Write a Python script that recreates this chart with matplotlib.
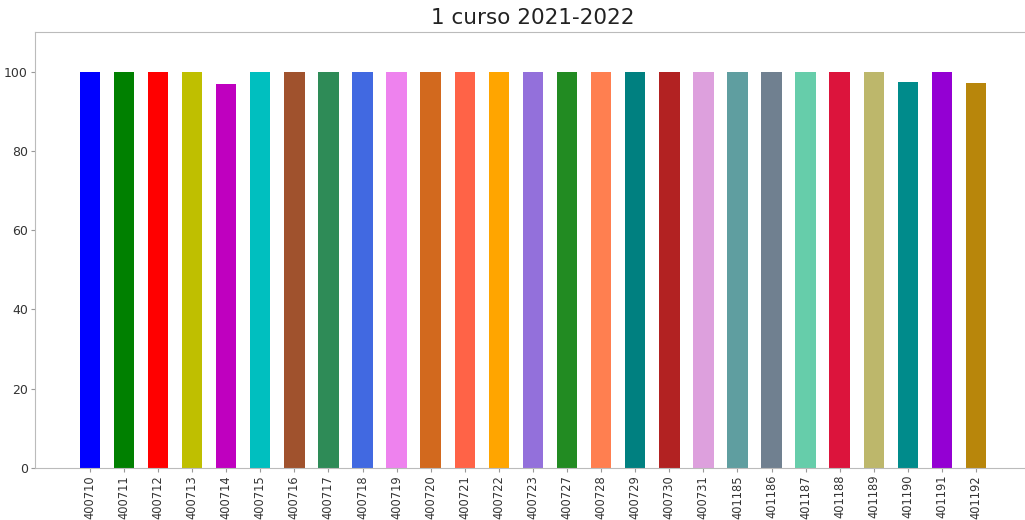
import numpy as np
from matplotlib import pyplot as plt

# grupos del 1 curso
grupos = ['400710', '400711', '400712', '400713', '400714', '400715', '400716',
          '400717', '400718', '400719', '400720', '400721', '400722', '400723',
          '400727', '400728', '400729', '400730', '400731', '401185', '401186',
          '401187', '401188', '401189', '401190', '401191', '401192']
porcentajes = [100, 100, 100, 100, 97.0, 100, 100,
               100, 100, 100, 100, 100, 100, 100,
               100, 100, 100, 100, 100, 100, 100,
               100, 100, 100, 97.4, 100, 97.1]
colores = ['b', 'g', 'r', 'y', 'm', 'c', 'sienna', 'seagreen', 'royalblue',
           'violet', 'chocolate', 'tomato', 'orange', 'mediumpurple',
           'forestgreen', 'coral', 'teal', 'firebrick', 'plum', 'cadetblue',
           'slategray', 'mediumaquamarine', 'crimson', 'darkkhaki', 'darkcyan',
           'darkviolet', 'darkgoldenrod']

fig = plt.figure(figsize=(10.25, 5.2), dpi=100)
ax = fig.add_axes([0.0341, 0.1, 0.9717, 0.8385])

x = np.arange(len(grupos))
ax.bar(x, porcentajes, width=0.6, color=colores)

ax.set_xticks(x)
ax.set_xticklabels(grupos, rotation=90, fontsize=8.3, color='#333333')
ax.set_xlim(-1.61, len(grupos) - 1 + 1.61)
ax.set_ylim(0, 110)
ax.set_yticks(range(0, 101, 20))
ax.tick_params(axis='y', labelsize=9, labelcolor='#333333')
ax.tick_params(color='#999999', length=3, pad=2)
for s in ax.spines.values():
    s.set_color('#bbbbbb')
ax.set_title('1 curso 2021-2022', fontsize=15.5, color='#222222')

plt.savefig('out.png', dpi=100)
